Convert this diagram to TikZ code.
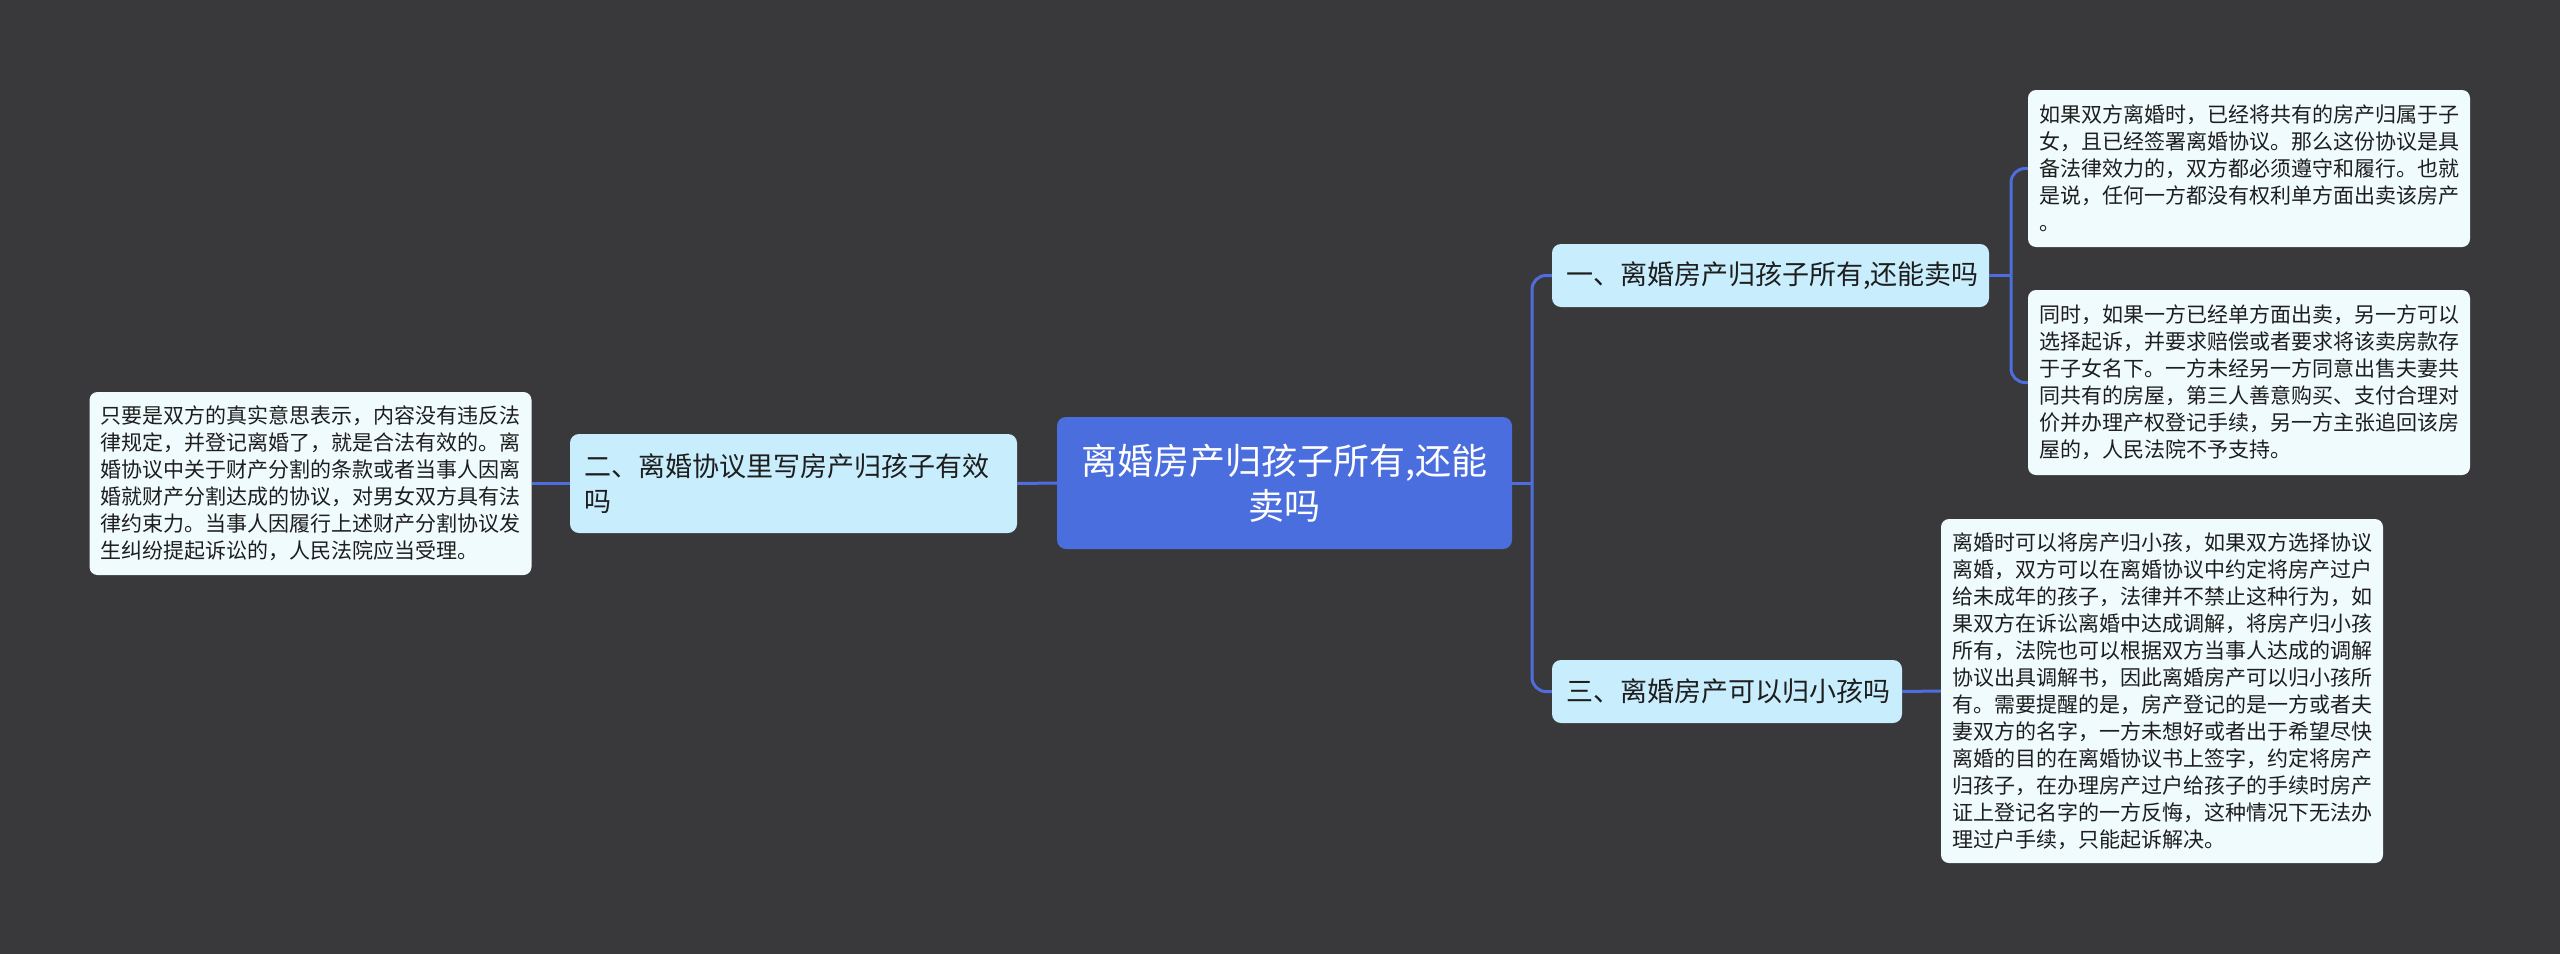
\documentclass[tikz,border=0pt]{standalone}
\usepackage{fontspec}
\setmainfont{Noto Sans CJK SC}
\definecolor{bg}{RGB}{57,56,59}
\definecolor{rootfill}{RGB}{75,110,222}
\definecolor{linecol}{RGB}{78,110,222}
\definecolor{branchfill}{RGB}{200,237,253}
\definecolor{leaffill}{RGB}{240,251,254}
\definecolor{txt}{RGB}{30,30,30}
\begin{document}
\begin{tikzpicture}[x=1pt,y=-1pt,
  rootbox/.style={fill=rootfill, rounded corners=9pt, text=white, align=center,
    minimum width=455pt, minimum height=132pt, inner sep=0pt,
    font=\fontsize{36}{45}\selectfont},
  branchbox/.style={fill=branchfill, rounded corners=9pt, text=txt, align=left,
    inner xsep=14pt, inner ysep=0pt, font=\fontsize{27}{35}\selectfont},
  leafbox/.style={fill=leaffill, rounded corners=8pt, text=txt, align=left,
    inner xsep=11pt, inner ysep=0pt, text width=420pt,
    font=\fontsize{21}{27}\selectfont},
  conn/.style={draw=linecol, line width=3pt, rounded corners=14pt}
]
\useasboundingbox[fill=bg] (0,0) rectangle (2560,954);

\node[rootbox] (root) at (1284.5,483) {离婚房产归孩子所有,还能\\卖吗};

\node[branchbox, text width=409pt, minimum height=63pt] (b1) at (1770.5,275.5) {一、离婚房产归孩子所有,还能卖吗};
\node[branchbox, text width=419pt, minimum height=99pt] (b2) at (793.5,483.5) {二、离婚协议里写房产归孩子有效\\吗};
\node[branchbox, text width=322pt, minimum height=63pt] (b3) at (1727,691.5) {三、离婚房产可以归小孩吗};

\node[leafbox, minimum height=157pt] (l1) at (2249,168.5) {如果双方离婚时，已经将共有的房产归属于子\\女，且已经签署离婚协议。那么这份协议是具\\备法律效力的，双方都必须遵守和履行。也就\\是说，任何一方都没有权利单方面出卖该房产\\。};
\node[leafbox, minimum height=185pt] (l2) at (2249,382.5) {同时，如果一方已经单方面出卖，另一方可以\\选择起诉，并要求赔偿或者要求将该卖房款存\\于子女名下。一方未经另一方同意出售夫妻共\\同共有的房屋，第三人善意购买、支付合理对\\价并办理产权登记手续，另一方主张追回该房\\屋的，人民法院不予支持。};
\node[leafbox, minimum height=344pt] (l3) at (2162,691) {离婚时可以将房产归小孩，如果双方选择协议\\离婚，双方可以在离婚协议中约定将房产过户\\给未成年的孩子，法律并不禁止这种行为，如\\果双方在诉讼离婚中达成调解，将房产归小孩\\所有，法院也可以根据双方当事人达成的调解\\协议出具调解书，因此离婚房产可以归小孩所\\有。需要提醒的是，房产登记的是一方或者夫\\妻双方的名字，一方未想好或者出于希望尽快\\离婚的目的在离婚协议书上签字，约定将房产\\归孩子，在办理房产过户给孩子的手续时房产\\证上登记名字的一方反悔，这种情况下无法办\\理过户手续，只能起诉解决。};
\node[leafbox, minimum height=183pt] (lL) at (310.5,483.5) {只要是双方的真实意思表示，内容没有违反法\\律规定，并登记离婚了，就是合法有效的。离\\婚协议中关于财产分割的条款或者当事人因离\\婚就财产分割达成的协议，对男女双方具有法\\律约束力。当事人因履行上述财产分割协议发\\生纠纷提起诉讼的，人民法院应当受理。};

\coordinate (t) at (1532,483);
\coordinate (u) at (2011,275.5);

\draw[conn] (root.east) -- (t);
\draw[conn] (t) |- (b1.west);
\draw[conn] (t) |- (b3.west);
\draw[conn] (root.west) -- (b2.east);
\draw[conn] (b2.west) -- (lL.east);
\draw[conn] (b3.east) -- (l3.west);
\draw[conn] (b1.east) -- (u);
\draw[conn] (u) |- (l1.west);
\draw[conn] (u) |- (l2.west);
\end{tikzpicture}
\end{document}
